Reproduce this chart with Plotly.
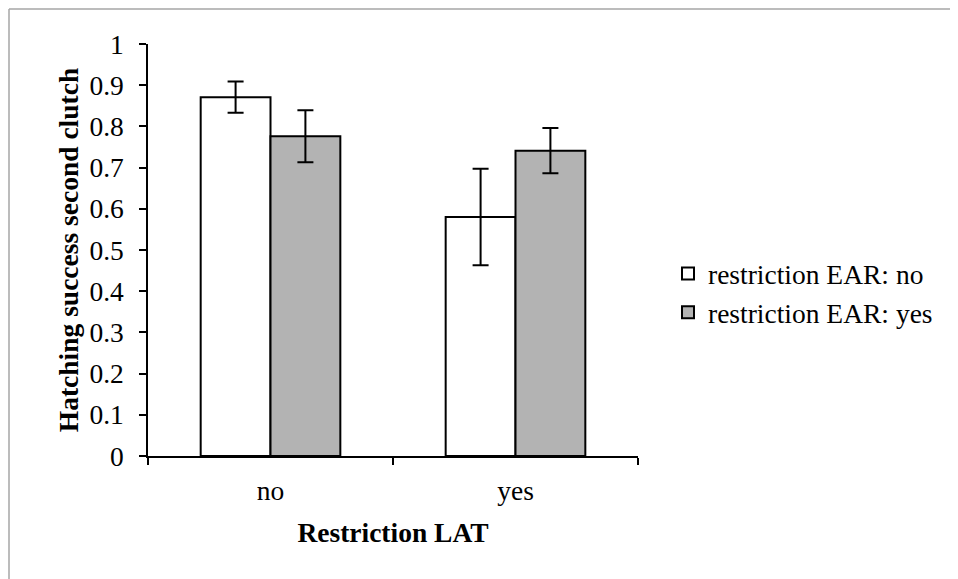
import plotly.graph_objects as go

categories = ["no", "yes"]
series_names = ["restriction EAR: no", "restriction EAR: yes"]
values_ear_no = [0.871, 0.580]
errors_ear_no = [0.038, 0.117]
values_ear_yes = [0.776, 0.741]
errors_ear_yes = [0.063, 0.055]
y_ticks = [0, 0.1, 0.2, 0.3, 0.4, 0.5, 0.6, 0.7, 0.8, 0.9, 1]
y_tick_labels = ["0", "0.1", "0.2", "0.3", "0.4", "0.5", "0.6", "0.7", "0.8", "0.9", "1"]

FONT = "Liberation Serif"
OFF = 8  # page body margin
W, H = 958, 579
L, T = 148 - OFF, 44 - OFF
PW, PH = 490, 412
R = W - L - PW
B = H - T - PH

def px_x(sx):
    return (sx - OFF - L) / PW

def px_y(sy):
    return (T + PH - (sy - OFF)) / PH

fig = go.Figure()
fig.add_trace(go.Bar(
    x=categories, y=values_ear_no, name=series_names[0],
    marker=dict(color="#ffffff", line=dict(color="#000000", width=2)),
    error_y=dict(type="data", array=errors_ear_no, color="#000000", thickness=2, width=8),
))
fig.add_trace(go.Bar(
    x=categories, y=values_ear_yes, name=series_names[1],
    marker=dict(color="#b3b3b3", line=dict(color="#000000", width=2)),
    error_y=dict(type="data", array=errors_ear_yes, color="#000000", thickness=2, width=8),
))

fig.update_layout(
    width=W, height=H,
    margin=dict(l=L, r=R, t=T, b=B, autoexpand=False),
    paper_bgcolor="#ffffff", plot_bgcolor="#ffffff",
    barmode="group", bargap=0.43, bargroupgap=0,
    font=dict(family=FONT, size=27.5, color="#000000"),
    showlegend=True,
    legend=dict(
        x=px_x(668), y=px_y(293), xanchor="left", yanchor="middle",
        font=dict(family=FONT, size=27.5, color="#000000"),
        bgcolor="rgba(0,0,0,0)", borderwidth=0, tracegroupgap=19,
        traceorder="normal",
    ),
    xaxis=dict(
        showline=True, linecolor="#000000", linewidth=1.5,
        ticks="outside", tickson="boundaries", ticklen=7, tickwidth=1.5, tickcolor="#000000",
        showgrid=False, zeroline=False,
        tickfont=dict(family=FONT, size=27.5),
        title=dict(text="<b>Restriction LAT</b>", font=dict(family=FONT, size=27.5), standoff=18),
        ticklabelstandoff=9,
    ),
    yaxis=dict(
        range=[0, 1], tickvals=y_ticks, ticktext=y_tick_labels,
        showline=True, linecolor="#000000", linewidth=1.5,
        ticks="outside", ticklen=7, tickwidth=1.5, tickcolor="#000000",
        showgrid=False, zeroline=False,
        tickfont=dict(family=FONT, size=27.5),
        title=dict(text="<b>Hatching success second clutch</b>", font=dict(family=FONT, size=27.5), standoff=3),
        ticklabelstandoff=10,
    ),
)

# outer chart frame (top and left edges visible)
fig.add_shape(type="line", xref="paper", yref="paper",
              x0=px_x(9), y0=px_y(9), x1=px_x(1000), y1=px_y(9),
              line=dict(color="#a6a6a6", width=1.5))
fig.add_shape(type="line", xref="paper", yref="paper",
              x0=px_x(9), y0=px_y(9), x1=px_x(9), y1=px_y(620),
              line=dict(color="#a6a6a6", width=1.5))

fig.write_html("out.html")
